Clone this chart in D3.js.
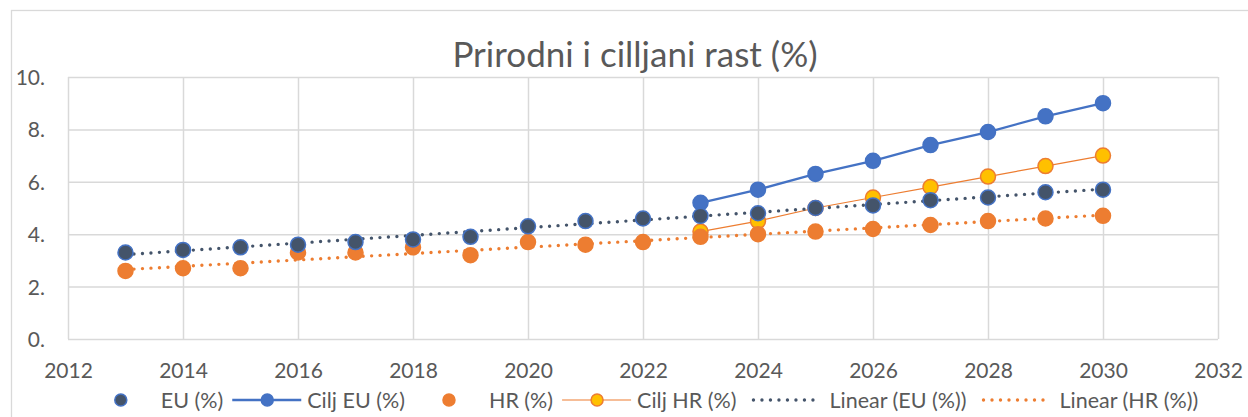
<!DOCTYPE html>
<html>
<head>
<meta charset="utf-8">
<script src="https://cdn.jsdelivr.net/npm/d3@7"></script>
<style>
  body { margin: 0; background: #fff; }
  svg { display: block; font-family: Lato, "Open Sans", sans-serif; }
</style>
</head>
<body>
<svg id="chart" width="1248" height="417"></svg>
<script>
// data
var years = [2013, 2014, 2015, 2016, 2017, 2018, 2019, 2020, 2021, 2022,
             2023, 2024, 2025, 2026, 2027, 2028, 2029, 2030];
var euValues = [3.3, 3.4, 3.5, 3.6, 3.7, 3.8, 3.9, 4.3, 4.5, 4.6,
                4.7, 4.8, 5.0, 5.1, 5.3, 5.4, 5.6, 5.7];
var hrValues = [2.6, 2.7, 2.7, 3.3, 3.3, 3.5, 3.2, 3.7, 3.6, 3.7,
                3.9, 4.0, 4.1, 4.2, 4.35, 4.5, 4.6, 4.7];
var targetYears = [2023, 2024, 2025, 2026, 2027, 2028, 2029, 2030];
var ciljEuValues = [5.2, 5.7, 6.3, 6.8, 7.4, 7.9, 8.5, 9.0];
var ciljHrValues = [4.1, 4.5, 5.0, 5.4, 5.8, 6.2, 6.6, 7.0];
// trendline end points (2013 and 2030)
var trendYears = [2013, 2030];
var euTrend = [3.22, 5.72];
var hrTrend = [2.65, 4.73];
var xTicks = [2012, 2014, 2016, 2018, 2020, 2022, 2024, 2026, 2028, 2030, 2032];
var yTicks = [0, 2, 4, 6, 8, 10];
var legendLabels = ["EU (%)", "Cilj EU (%)", "HR (%)", "Cilj HR (%)", "Linear (EU (%))", "Linear (HR (%))"];

var svg = d3.select("#chart");
var textColor = "#595959", gridColor = "#d9d9d9";
var dark = "#44546A", blue = "#4472C4", orange = "#ED7D31", gold = "#FFC000";

// outer chart border
svg.append("rect")
  .attr("x", 11.5).attr("y", 10.5)
  .attr("width", 1250).attr("height", 420)
  .attr("fill", "none").attr("stroke", gridColor).attr("stroke-width", 1.3);

svg.append("text")
  .attr("x", 635).attr("y", 67)
  .attr("text-anchor", "middle")
  .attr("fill", textColor)
  .style("font-size", "35px")
  .text("Prirodni i cilljani rast (%)");

var x = d3.scaleLinear().domain([2012, 2032]).range([68, 1218]);
var y = d3.scaleLinear().domain([0, 10]).range([339, 77]);

var g = svg.append("g");

// grid
g.append("g")
  .attr("transform", "translate(0,339)")
  .call(d3.axisBottom(x).tickValues(xTicks).tickSize(-(339 - 77)).tickFormat(d3.format("d")))
  .call(function(a) {
    a.select(".domain").remove();
    a.selectAll("line").attr("stroke", gridColor).attr("stroke-width", 1.5);
    a.selectAll("text").attr("fill", textColor).attr("dy", "0").attr("y", 39)
      .style("font-size", "21px").style("font-family", "Lato, sans-serif");
  });

g.append("g")
  .attr("transform", "translate(68,0)")
  .call(d3.axisLeft(y).tickValues(yTicks).tickSize(-(1218 - 68)).tickFormat(function(d) { return d + "."; }))
  .call(function(a) {
    a.select(".domain").remove();
    a.selectAll("line").attr("stroke", gridColor).attr("stroke-width", 1.5);
    a.selectAll("text").attr("fill", textColor).attr("x", -23).attr("dy", "0.36em")
      .style("font-size", "21px").style("font-family", "Lato, sans-serif");
  });

var line = d3.line()
  .x(function(d) { return x(d[0]); })
  .y(function(d) { return y(d[1]); });

function pairs(xs, vs) { return xs.map(function(v, i) { return [v, vs[i]]; }); }

// series lines
g.append("path").datum(pairs(targetYears, ciljHrValues))
  .attr("d", line).attr("fill", "none").attr("stroke", orange).attr("stroke-width", 1.2);
g.append("path").datum(pairs(targetYears, ciljEuValues))
  .attr("d", line).attr("fill", "none").attr("stroke", blue).attr("stroke-width", 2.3);

// trendlines
[[euTrend, dark], [hrTrend, orange]].forEach(function(t) {
  g.append("path").datum(pairs(trendYears, t[0]))
    .attr("d", line).attr("fill", "none").attr("stroke", t[1])
    .attr("stroke-width", 3.4).attr("stroke-linecap", "round")
    .attr("stroke-dasharray", "0,8.5");
});

function markers(xs, vs, fill, stroke, r) {
  g.append("g").selectAll("circle")
    .data(pairs(xs, vs))
    .enter().append("circle")
    .attr("cx", function(d) { return x(d[0]); })
    .attr("cy", function(d) { return y(d[1]); })
    .attr("r", r)
    .attr("fill", fill).attr("stroke", stroke).attr("stroke-width", 1.5);
}
markers(targetYears, ciljHrValues, gold, orange, 7.5);
markers(targetYears, ciljEuValues, blue, blue, 7.5);
markers(years, hrValues, orange, orange, 7.5);
markers(years, euValues, dark, blue, 7.5);

// legend
var legendStyles = [
  { marker: [dark, blue] },
  { marker: [blue, blue], line: [blue, 2.3] },
  { marker: [orange, orange] },
  { marker: [gold, orange], line: [orange, 1.2] },
  { dots: dark },
  { dots: orange }
];
var legend = svg.append("g").attr("transform", "translate(0,400)");
var items = legend.selectAll("g").data(legendLabels).enter().append("g");
items.each(function(label, i) {
  var it = d3.select(this), s = legendStyles[i];
  if (s.line) it.append("line").attr("x1", 0).attr("x2", 69).attr("stroke", s.line[0]).attr("stroke-width", s.line[1]);
  if (s.dots) it.append("line").attr("x1", 8).attr("x2", 76).attr("stroke", s.dots)
    .attr("stroke-width", 3.4).attr("stroke-linecap", "round").attr("stroke-dasharray", "0,8.5");
  if (s.marker) it.append("circle").attr("cx", 35).attr("r", 6)
    .attr("fill", s.marker[0]).attr("stroke", s.marker[1]).attr("stroke-width", 1.5);
  it.append("text").attr("x", s.dots ? 84 : 75).attr("dy", "0.35em")
    .attr("fill", textColor).style("font-size", "21.5px").text(label);
});
var widths = [];
items.each(function() {
  var b = this.getBBox();
  widths.push(b.x + b.width);
});
var total = d3.sum(widths) + 9 * (widths.length - 1);
var cursor = 642 - total / 2;
items.attr("transform", function(d, i) {
  var t = "translate(" + cursor + ",0)";
  cursor += widths[i] + 9;
  return t;
});
</script>
</body>
</html>
